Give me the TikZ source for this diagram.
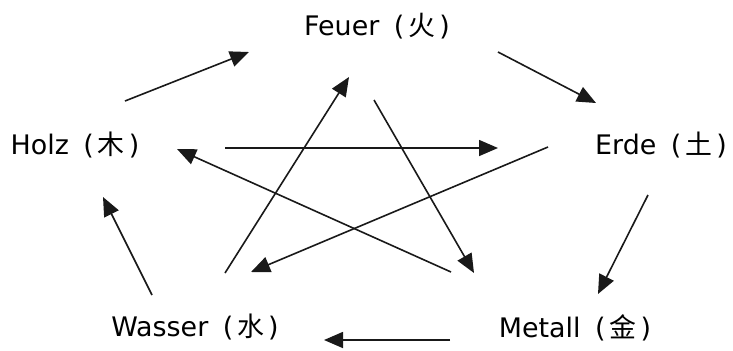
\documentclass[tikz,border=0pt]{standalone}
\usepackage{fontspec}
\setmainfont{DejaVu Sans}
\newfontfamily\cjk{Noto Sans CJK SC}
\usetikzlibrary{arrows.meta}
\tikzset{
  lbl/.style={anchor=base, inner sep=0pt, font=\fontsize{27}{30}\selectfont},
  arr/.style={draw=black!90, line width=1.6bp, -{Triangle[length=19bp,width=16bp]}}
}
\newcommand{\zh}[1]{\kern6bp(\kern4bp{\cjk #1}\kern4bp)}
\begin{document}
\begin{tikzpicture}[x=1bp,y=-1bp]
\useasboundingbox (0,0) rectangle (733,350);
\node[lbl] (feuer)  at (377,35)  {Feuer \zh{火}};
\node[lbl] (holz)   at (75,154)  {Holz \zh{木}};
\node[lbl] (erde)   at (661,154) {Erde \zh{土}};
\node[lbl] (wasser) at (195,336) {Wasser \zh{水}};
\node[lbl] (metall) at (575,337) {Metall \zh{金}};
% endpoints
\coordinate (a1) at (125,101); \coordinate (b1) at (249,52);
\coordinate (a2) at (498,52);  \coordinate (b2) at (596,103);
\coordinate (a3) at (648,195); \coordinate (b3) at (598,294);
\coordinate (a4) at (450,340); \coordinate (b4) at (324,340);
\coordinate (a5) at (152,295); \coordinate (b5) at (103,197);
\coordinate (a6) at (225,148); \coordinate (b6) at (498,148);
\coordinate (a7) at (548,147); \coordinate (b7) at (251,272);
\coordinate (a8) at (225,273); \coordinate (b8) at (349,77);
\coordinate (a9) at (374,100); \coordinate (b9) at (474,273);
\coordinate (a10) at (451,272); \coordinate (b10) at (177,149);
\draw[arr] (a1) -- (b1);
\draw[arr] (a2) -- (b2);
\draw[arr] (a3) -- (b3);
\draw[arr] (a4) -- (b4);
\draw[arr] (a5) -- (b5);
\draw[arr] (a6) -- (b6);
\draw[arr] (a7) -- (b7);
\draw[arr] (a8) -- (b8);
\draw[arr] (a9) -- (b9);
\draw[arr] (a10) -- (b10);
\end{tikzpicture}
\end{document}
